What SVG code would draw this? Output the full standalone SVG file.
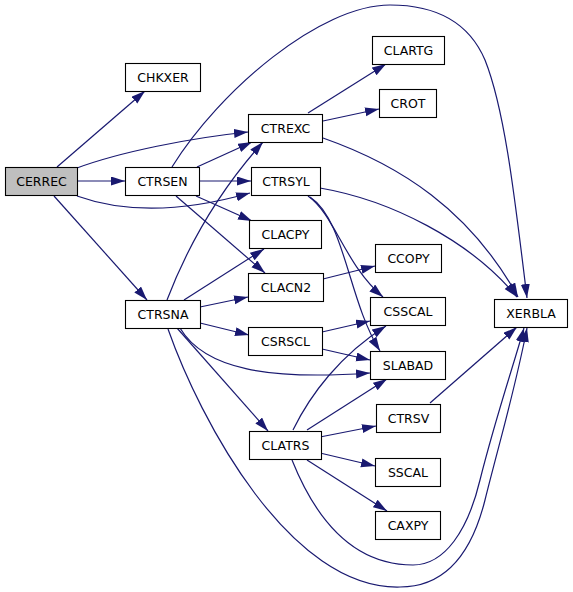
<svg xmlns="http://www.w3.org/2000/svg" width="573" height="592" viewBox="0 0 573 592">
<style>
.n rect{fill:#fff;stroke:#000;stroke-width:1.1}
.n text{font-family:"DejaVu Sans",sans-serif;font-size:12.5px;text-anchor:middle;fill:#000}
.e path{fill:none;stroke:#191970;stroke-width:1.2;marker-end:url(#a)}
</style>
<defs>
<marker id="a" markerUnits="userSpaceOnUse" markerWidth="15" markerHeight="10" refX="14" refY="4.5" orient="auto">
<path d="M0,0 L14,4.5 L0,9 z" fill="#191970"/>
</marker>
</defs>
<rect width="573" height="592" fill="#fff"/>
<g class="e" id="edges">
<path d="M57,167 L145,91"/>
<path d="M77,168 C120,152 190,138 248,132"/>
<path d="M77,181 L125,181"/>
<path d="M77,196 C130,215 190,210 250,193"/>
<path d="M54,196 L147,300"/>
<path d="M172,167 C220,90 320,5 390,5 C440,5 470,25 485,60 C505,110 515,200 527,298"/>
<path d="M197,167 L252,142"/>
<path d="M199,181 L251,181"/>
<path d="M196,196 L252,221"/>
<path d="M176,196 L265,273"/>
<path d="M167,300 C190,240 220,190 263,142"/>
<path d="M184,300 L264,249"/>
<path d="M200,307 L248,297"/>
<path d="M200,323 L249,335"/>
<path d="M180,328 C205,370 270,380 370,373"/>
<path d="M177,328 L268,431"/>
<path d="M168,329 C200,420 290,590 400,587 C440,587 470,560 485,500 C500,440 515,390 527,328"/>
<path d="M308,113 L386,64"/>
<path d="M323,121 L379,109"/>
<path d="M323,138 C400,165 470,210 518,297"/>
<path d="M320,188 C390,200 470,240 517,297"/>
<path d="M308,196 C335,215 345,265 383,297"/>
<path d="M310,197 C345,220 348,300 380,351"/>
<path d="M323,279 L375,266"/>
<path d="M322,332 L370,321"/>
<path d="M322,349 L370,360"/>
<path d="M293,430 C310,395 340,355 386,326"/>
<path d="M307,430 L387,379"/>
<path d="M320,437 L376,426"/>
<path d="M320,453 L375,466"/>
<path d="M307,460 L387,511"/>
<path d="M292,460 C320,530 360,565 413,565 C445,565 468,530 480,480 C495,420 512,370 524,328"/>
<path d="M430,403 L517,327"/>
</g>
<g class="n" id="CERREC"><rect x="5.5" y="167.5" width="72" height="28" style="fill:#bfbfbf"/><text x="41.5" y="186">CERREC</text></g>
<g class="n" id="CHKXER"><rect x="125.5" y="63.5" width="75" height="28"/><text x="163" y="82">CHKXER</text></g>
<g class="n" id="CTRSEN"><rect x="125.5" y="167.5" width="74" height="28"/><text x="162.5" y="186">CTRSEN</text></g>
<g class="n" id="CTRSNA"><rect x="125.5" y="300.5" width="75" height="28"/><text x="163" y="319">CTRSNA</text></g>
<g class="n" id="CTREXC"><rect x="248.5" y="114.5" width="74" height="28"/><text x="285.5" y="133">CTREXC</text></g>
<g class="n" id="CTRSYL"><rect x="251.5" y="167.5" width="69" height="28"/><text x="286" y="186">CTRSYL</text></g>
<g class="n" id="CLACPY"><rect x="249.5" y="220.5" width="72" height="28"/><text x="285.5" y="239">CLACPY</text></g>
<g class="n" id="CLACN2"><rect x="248.5" y="273.5" width="75" height="28"/><text x="286" y="292">CLACN2</text></g>
<g class="n" id="CSRSCL"><rect x="248.5" y="327.5" width="74" height="28"/><text x="285.5" y="346">CSRSCL</text></g>
<g class="n" id="CLATRS"><rect x="249.5" y="431.5" width="72" height="28"/><text x="285.5" y="450">CLATRS</text></g>
<g class="n" id="CLARTG"><rect x="372.5" y="36.5" width="72" height="28"/><text x="408.5" y="55">CLARTG</text></g>
<g class="n" id="CROT"><rect x="379.5" y="89.5" width="57" height="28"/><text x="408" y="108">CROT</text></g>
<g class="n" id="CCOPY"><rect x="375.5" y="244.5" width="66" height="28"/><text x="408.5" y="263">CCOPY</text></g>
<g class="n" id="CSSCAL"><rect x="370.5" y="297.5" width="75" height="28"/><text x="408" y="316">CSSCAL</text></g>
<g class="n" id="SLABAD"><rect x="370.5" y="351.5" width="75" height="28"/><text x="408" y="370">SLABAD</text></g>
<g class="n" id="CTRSV"><rect x="376.5" y="404.5" width="64" height="28"/><text x="408.5" y="423">CTRSV</text></g>
<g class="n" id="SSCAL"><rect x="375.5" y="458.5" width="65" height="28"/><text x="408" y="477">SSCAL</text></g>
<g class="n" id="CAXPY"><rect x="375.5" y="511.5" width="65" height="28"/><text x="408" y="530">CAXPY</text></g>
<g class="n" id="XERBLA"><rect x="494.5" y="299.5" width="73" height="28"/><text x="531" y="318">XERBLA</text></g>
</svg>
